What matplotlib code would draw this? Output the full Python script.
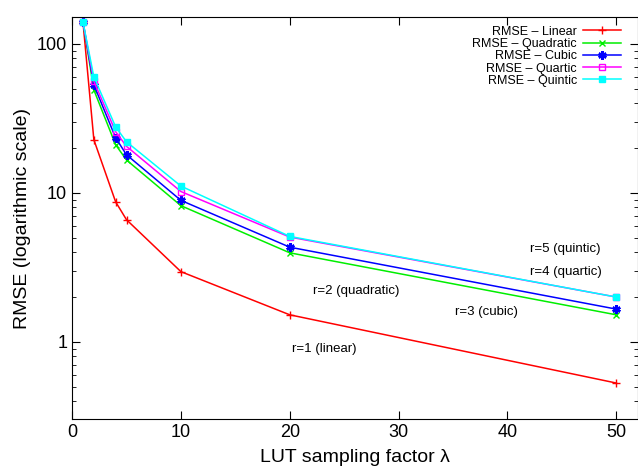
import matplotlib
matplotlib.use("Agg")
import matplotlib.pyplot as plt
from matplotlib.ticker import FixedLocator, FixedFormatter, LogLocator, NullFormatter

plt.rcParams['font.family'] = ['Liberation Sans', 'DejaVu Sans']

lam = [1, 2, 4, 5, 10, 20, 50]
rmse_linear = [140, 22.7, 8.7, 6.6, 2.96, 1.52, 0.53]
rmse_quadratic = [140, 49, 21, 16.6, 8.2, 3.96, 1.52]
rmse_cubic = [140, 53, 23.4, 18, 8.9, 4.32, 1.66]
rmse_quartic = [140, 56, 25.7, 20.5, 10.2, 5.05, 2.0]
rmse_quintic = [140, 60, 27.7, 22, 11.1, 5.1, 2.0]

notes = ['r=5 (quintic)', 'r=4 (quartic)', 'r=2 (quadratic)', 'r=3 (cubic)', 'r=1 (linear)']
note_x = [42.1, 42.1, 22.1, 35.2, 20.2]
note_y = [4.2, 2.95, 2.2, 1.59, 0.9]

fig = plt.figure(figsize=(6.38, 4.74), dpi=100)
ax = fig.add_axes([0.113, 0.116, 0.887, 0.848])

ax.plot(lam, rmse_linear, color='red', marker='+', ms=6, lw=1.1, label='RMSE – Linear')
ax.plot(lam, rmse_quadratic, color='#00ee00', marker='x', ms=5, lw=1.1, label='RMSE – Quadratic')
ax.plot(lam, rmse_cubic, color='blue', marker=(6, 2, 0), ms=6, mew=1.8, lw=1.1, label='RMSE – Cubic')
ax.plot(lam, rmse_quartic, color='magenta', marker='s', ms=5, mfc='none', lw=1.1, label='RMSE – Quartic')
ax.plot(lam, rmse_quintic, color='cyan', marker='s', ms=5, lw=1.1, label='RMSE – Quintic')

for t, x, y in zip(notes, note_x, note_y):
    ax.text(x, y, t, fontsize=9.5, va='center', ha='left')

ax.set_yscale('log')
ax.set_xlim(0, 52)
ax.set_ylim(0.304, 151)
ax.xaxis.set_major_locator(FixedLocator([0, 10, 20, 30, 40, 50]))
ax.yaxis.set_major_locator(FixedLocator([1, 10, 100]))
ax.yaxis.set_major_formatter(FixedFormatter(['1', '10', '100']))
ax.yaxis.set_minor_locator(LogLocator(base=10, subs=range(2, 10)))
ax.yaxis.set_minor_formatter(NullFormatter())
ax.tick_params(which='both', direction='in', top=True, right=True, labelsize=13)
ax.tick_params(which='major', length=6)
ax.tick_params(which='minor', length=3)

ax.set_xlabel('LUT sampling factor λ', fontsize=14, labelpad=6)
ax.set_ylabel('RMSE (logarithmic scale)', fontsize=14)

ax.legend(loc='upper right', markerfirst=False, frameon=False, fontsize=9,
          handlelength=3.0, labelspacing=0.02, borderaxespad=0.3, handletextpad=0.5,
          bbox_to_anchor=(0.985, 1.0))

fig.savefig('out.png', dpi=100)
